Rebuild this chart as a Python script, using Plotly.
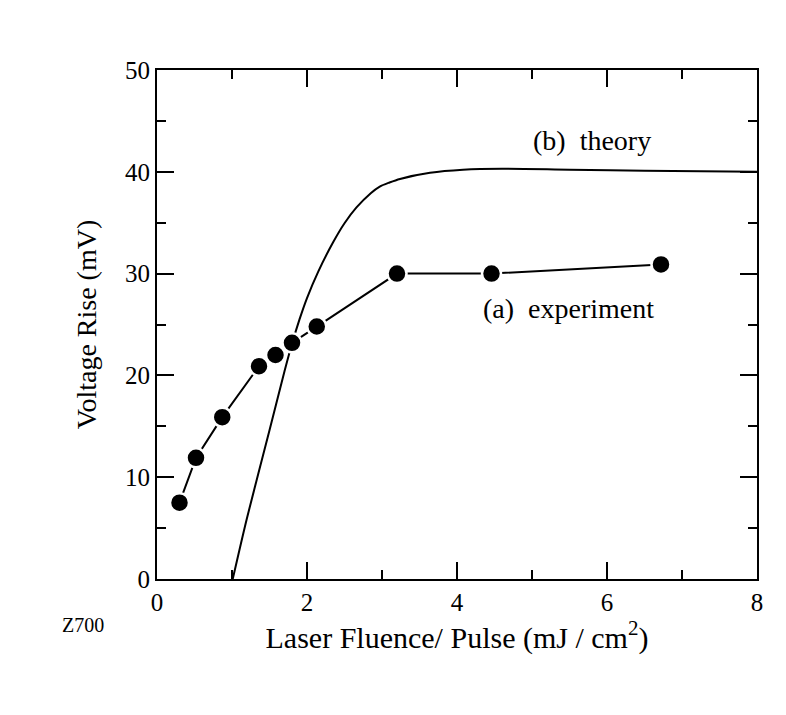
import plotly.graph_objects as go

# Experimental data (a)
exp_x = [0.30, 0.52, 0.87, 1.36, 1.58, 1.80, 2.13, 3.20, 4.46, 6.72]
exp_y = [7.5, 11.9, 15.9, 20.9, 22.0, 23.2, 24.8, 30.0, 30.0, 30.9]

# Theory curve (b)
th_x = [1.01, 1.20, 1.50, 1.70, 1.80, 1.90, 2.00, 2.15, 2.35, 2.50, 2.66, 2.85, 2.97, 3.10, 3.24, 3.64, 4.08, 4.60, 5.50, 6.50, 8.00]
th_y = [0.0, 6.0, 14.6, 20.4, 23.1, 25.5, 27.6, 30.2, 33.1, 34.95, 36.5, 37.9, 38.55, 38.95, 39.3, 39.9, 40.2, 40.3, 40.2, 40.1, 40.0]

x_ticks = [0, 2, 4, 6, 8]
y_ticks = [0, 10, 20, 30, 40, 50]

FONT = "Liberation Serif, Times New Roman, serif"

fig = go.Figure()
fig.add_trace(go.Scatter(x=th_x, y=th_y, mode="lines",
                         line=dict(color="black", width=2, shape="spline", smoothing=0.8),
                         showlegend=False))
fig.add_trace(go.Scatter(x=exp_x, y=exp_y, mode="lines+markers",
                         line=dict(color="black", width=2),
                         marker=dict(color="black", size=19, line=dict(color="white", width=2.5)),
                         showlegend=False))

fig.add_annotation(x=5.8, y=43.1, text="(b)  theory", showarrow=False,
                   font=dict(family=FONT, size=28, color="black"))
fig.add_annotation(x=5.48, y=26.6, text="(a)  experiment", showarrow=False,
                   font=dict(family=FONT, size=28, color="black"))
fig.add_annotation(x=-0.162, y=-0.09, xref="paper", yref="paper", text="Z700",
                   showarrow=False, xanchor="left", yanchor="middle",
                   font=dict(family=FONT, size=20, color="black"))

axis_common = dict(showline=True, linecolor="black", linewidth=2, mirror="ticks",
                   ticks="inside", tickcolor="black", tickwidth=2, ticklen=17,
                   showgrid=False, zeroline=False,
                   tickfont=dict(family=FONT, size=25, color="black"))

fig.update_xaxes(range=[0, 8], tickvals=x_ticks,
                 minor=dict(dtick=1, ticks="inside", ticklen=9, tickcolor="black", tickwidth=2),
                 title=dict(text="Laser Fluence/ Pulse (mJ / cm<sup>2</sup>)",
                            font=dict(family=FONT, size=30, color="black"), standoff=0),
                 **axis_common)
fig.update_yaxes(range=[0, 50], tickvals=y_ticks,
                 minor=dict(dtick=5, ticks="inside", ticklen=9, tickcolor="black", tickwidth=2),
                 title=dict(text="Voltage Rise (mV)",
                            font=dict(family=FONT, size=28, color="black"), standoff=20),
                 **axis_common)

fig.update_layout(width=786, height=715,
                  margin=dict(l=149, r=37, t=62, b=144),
                  paper_bgcolor="white", plot_bgcolor="white")

fig.write_html("out.html")
